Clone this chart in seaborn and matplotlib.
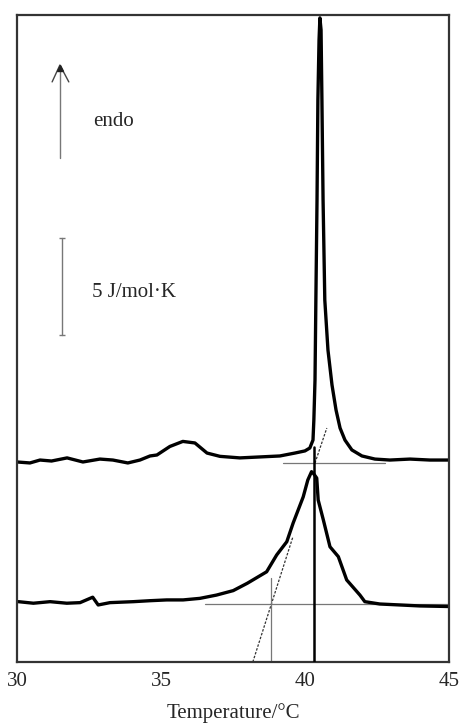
import matplotlib
matplotlib.use("Agg")
import matplotlib.pyplot as plt
import seaborn as sns
import pandas as pd

# ---- data ----
top_T = [30.00, 30.45, 30.80, 31.20, 31.74, 32.29, 32.88, 33.33, 33.85, 34.27,
         34.62, 34.86, 35.31, 35.76, 36.18, 36.60, 37.05, 37.74, 38.44, 39.13,
         39.65, 40.00, 40.17, 40.28, 40.31, 40.35, 40.38, 40.42, 40.45, 40.49,
         40.52, 40.56, 40.59, 40.63, 40.69, 40.80, 40.94, 41.08, 41.22, 41.39,
         41.63, 41.98, 42.43, 42.95, 43.65, 44.34, 45.00]
top_Cp = [10.31, 10.26, 10.41, 10.36, 10.52, 10.31, 10.46, 10.41, 10.26, 10.41,
          10.62, 10.67, 11.11, 11.37, 11.29, 10.77, 10.60, 10.52, 10.57, 10.62,
          10.77, 10.88, 11.03, 11.44, 12.47, 14.54, 18.66, 23.81, 28.97, 32.06,
          33.20, 32.58, 28.97, 23.81, 18.66, 16.08, 14.28, 12.99, 12.06, 11.44,
          10.93, 10.62, 10.46, 10.41, 10.46, 10.41, 10.41]

bot_T = [30.05, 30.57, 31.15, 31.73, 32.19, 32.63, 32.82, 33.23, 34.04, 34.62,
         35.20, 35.77, 36.35, 36.93, 37.51, 38.00, 38.67, 39.02, 39.37, 39.59,
         39.94, 40.10, 40.23, 40.31, 40.41, 40.46, 40.64, 40.87, 41.16, 41.45,
         41.91, 42.08, 42.60, 43.30, 43.99, 45.00]
bot_Cp = [3.11, 3.03, 3.11, 3.03, 3.06, 3.34, 2.94, 3.06, 3.11, 3.16,
          3.20, 3.20, 3.28, 3.45, 3.68, 4.06, 4.65, 5.52, 6.20, 7.16,
          8.51, 9.38, 9.81, 9.69, 9.48, 8.35, 7.32, 5.94, 5.43, 4.23,
          3.45, 3.11, 2.99, 2.94, 2.89, 2.86]

# construction lines
top_base_T = [39.24, 42.78]
top_base_Cp = [10.27, 10.27]
bot_base_T = [36.53, 45.00]
bot_base_Cp = [2.97, 2.97]
top_tan_T = [40.35, 40.76]
top_tan_Cp = [10.26, 12.06]
bot_tan_T = [38.19, 39.58]
bot_tan_Cp = [0.0, 6.44]
tm_T = 40.33
tm_Cp_top = 11.1
onset_T = 38.81
onset_Cp_top = 4.35

xticks_major = [30, 35, 40, 45]
xticks_minor = list(range(30, 46))

# ---- styling ----
sns.set_style("white")
plt.rcParams["font.family"] = ["Liberation Serif", "DejaVu Serif"]
plt.rcParams["font.size"] = 15

fig = plt.figure(figsize=(4.59, 7.27), dpi=100)
ax = fig.add_axes([0.037, 0.0894, 0.941, 0.8900])

df_top = pd.DataFrame({"T": top_T, "Cp": top_Cp})
df_bot = pd.DataFrame({"T": bot_T, "Cp": bot_Cp})

gray = "#777777"
ax.plot(top_base_T, top_base_Cp, color=gray, lw=0.9, zorder=1)
ax.plot(bot_base_T, bot_base_Cp, color=gray, lw=0.9, zorder=1)
ax.plot(top_tan_T, top_tan_Cp, color="#333333", lw=0.9, ls=(0, (2, 1.2)), zorder=1)
ax.plot(bot_tan_T, bot_tan_Cp, color="#333333", lw=0.9, ls=(0, (2, 1.2)), zorder=1)
ax.plot([onset_T, onset_T], [0, onset_Cp_top], color=gray, lw=0.9, zorder=1)
ax.plot([tm_T, tm_T], [0, tm_Cp_top], color="black", lw=1.8, zorder=3)

sns.lineplot(data=df_top, x="T", y="Cp", sort=False, estimator=None,
             color="black", lw=2.4, ax=ax, zorder=2)
sns.lineplot(data=df_bot, x="T", y="Cp", sort=False, estimator=None,
             color="black", lw=2.4, ax=ax, zorder=2)

ax.set_xlim(30, 45)
ax.set_ylim(0, 33.35)

# endo arrow: thin gray shaft with open chevron head and small filled tip
ax.plot([31.49, 31.49], [25.98, 30.6], color="#777777", lw=1.0)
ax.plot([31.22, 31.49, 31.80], [29.9, 30.77, 29.9], color="#444444", lw=1.0)
ax.plot([31.49], [30.6], marker="^", markersize=4, color="#222222")
ax.text(32.64, 27.84, "endo", ha="left", va="center", fontsize=15)

# scale bar
ax.plot([31.55, 31.55], [16.86, 21.86], color="#777777", lw=1.0,
        marker="_", markersize=5, markeredgewidth=1.0)
ax.text(32.60, 19.07, "5 J/mol·K", ha="left", va="center", fontsize=15)

# axes / ticks
for s in ax.spines.values():
    s.set_visible(True)
    s.set_color("#333333")
    s.set_linewidth(1.6)
ax.set_xticks(xticks_major)
ax.set_xticks(xticks_minor, minor=True)
ax.set_yticks([])
ax.tick_params(axis="x", which="major", direction="in", length=9, width=1.5,
               color="#333333", pad=7, labelsize=15)
ax.tick_params(axis="x", which="minor", direction="in", length=5, width=1.5,
               color="#333333")
ax.set_xlabel("Temperature/°C", fontsize=15, labelpad=9)
ax.set_ylabel("")

fig.savefig("out.png", dpi=100)
